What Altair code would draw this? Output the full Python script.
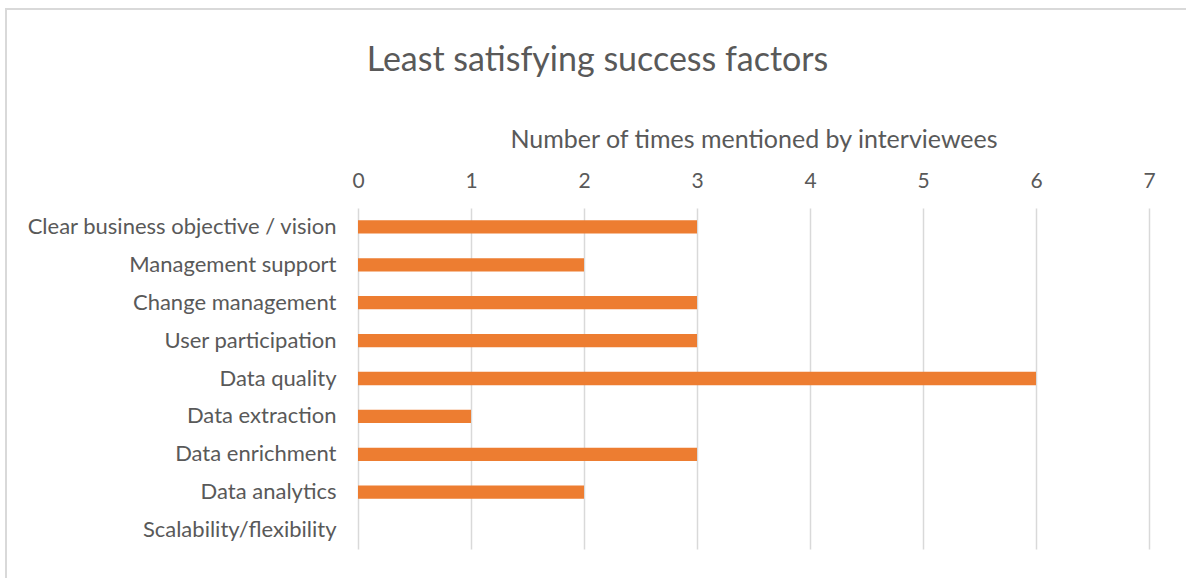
import altair as alt
import pandas as pd

categories = [
    "Clear business objective / vision",
    "Management support",
    "Change management",
    "User participation",
    "Data quality",
    "Data extraction",
    "Data enrichment",
    "Data analytics",
    "Scalability/flexibility",
]
counts = [3, 2, 3, 3, 6, 1, 3, 2, 0]
x_ticks = [0, 1, 2, 3, 4, 5, 6, 7]

df = pd.DataFrame({"factor": categories, "count": counts})

FONT = "Lato"
TXT = "#595959"
W, H = 791, 341
PL, PT = 358, 208

bars = alt.Chart(df).mark_bar(color="#ED7D31").encode(
    x=alt.X(
        "count:Q",
        scale=alt.Scale(domain=[0, 7], nice=False),
        axis=alt.Axis(
            orient="top",
            values=x_ticks,
            title="Number of times mentioned by interviewees",
            titleFontSize=25,
            titleFontWeight="normal",
            titleColor=TXT,
            titleFont=FONT,
            titlePadding=18,
            labelFontSize=21,
            labelColor=TXT,
            labelFont=FONT,
            labelPadding=17,
            labelFlush=False,
            domain=False,
            ticks=False,
            grid=True,
            gridColor="#D9D9D9",
            gridWidth=1.5,
        ),
    ),
    y=alt.Y(
        "factor:N",
        sort=categories,
        scale=alt.Scale(paddingInner=0.65, paddingOuter=0.325),
        axis=alt.Axis(
            title=None,
            labelFontSize=22,
            labelColor=TXT,
            labelFont=FONT,
            labelPadding=22,
            labelLimit=400,
            domain=False,
            ticks=False,
            grid=False,
        ),
    ),
)

border = alt.Chart(df).mark_rect(
    fill=None, stroke="#D9D9D9", strokeWidth=2
).encode(
    x=alt.value(6 - PL),
    x2=alt.value(W + 200),
    y=alt.value(9 - PT),
    y2=alt.value(H + 200),
)

chart = alt.layer(border, bars).properties(
    width=W,
    height=H,
    title=alt.TitleParams(
        "Least satisfying success factors",
        font=FONT,
        fontSize=34,
        fontWeight="normal",
        color=TXT,
        anchor="middle",
        baseline="alphabetic",
        dx=-156,
        offset=0,
        dy=97,
    ),
    autosize=alt.AutoSizeParams(type="none"),
    padding={"left": PL, "top": PT, "right": 1186 - PL - W, "bottom": 578 - PT - H},
).configure(background="white").configure_view(strokeWidth=0)

chart.save("out.html", embed_options={"renderer": "svg", "actions": False})
